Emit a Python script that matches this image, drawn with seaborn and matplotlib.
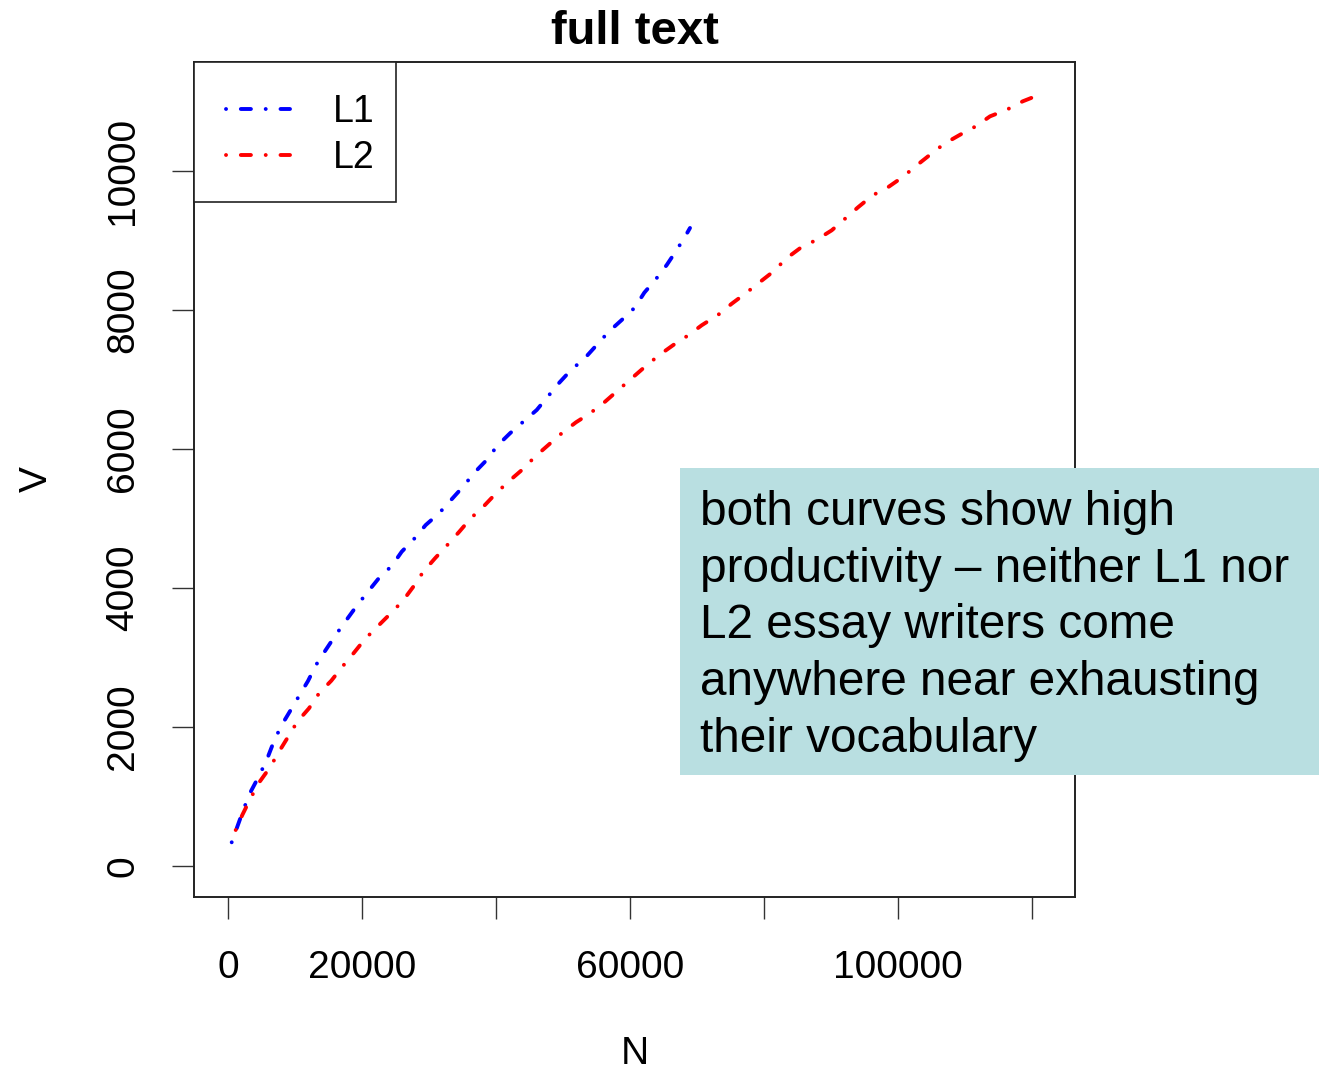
import numpy as np
import pandas as pd
import matplotlib
matplotlib.use("Agg")
import matplotlib.pyplot as plt
import seaborn as sns
from matplotlib.patches import Rectangle

# ---- data ----
l1_N = [552, 1388, 2388, 3388, 4627, 5776, 6716, 7866, 9209, 10597, 11940, 13134,
        14582, 16075, 17567, 19299, 22687, 24433, 25925, 27761, 29507, 31493, 33284,
        35075, 36761, 38612, 40194, 42090, 44075, 46075, 47716, 49448, 51194, 53239,
        55030, 56821, 58761, 60701, 62134, 63881, 65478, 66970, 68358, 68955]
l1_V = [341, 565, 834, 1069, 1295, 1525, 1760, 2004, 2220, 2446, 2662, 2892,
        3108, 3324, 3525, 3755, 4162, 4316, 4522, 4705, 4906, 5074, 5266,
        5457, 5658, 5842, 6047, 6226, 6393, 6561, 6752, 6954, 7136, 7305,
        7496, 7687, 7856, 8033, 8249, 8446, 8647, 8863, 9079, 9180]

l2_N = [1149, 2134, 3388, 4627, 6269, 7612, 8955, 10343, 12090, 13582, 15418, 17060,
        18806, 20403, 22284, 24284, 26075, 27657, 29149, 30896, 32731, 34522, 36224,
        38209, 40000, 41836, 43985, 45821, 47806, 49806, 51940, 54030, 56269, 58254,
        60254, 62239, 64373, 66463, 68701, 70701, 73179, 75179, 77313, 79403, 81493,
        83284, 85478, 87866, 90104, 92090, 94075, 96224, 98552, 100701, 102791,
        104672, 106910, 109254, 111597, 113731, 116224, 118612, 121090]
l2_V = [518, 734, 978, 1199, 1420, 1645, 1856, 2076, 2269, 2484, 2666, 2867,
        3069, 3261, 3443, 3635, 3813, 4018, 4234, 4427, 4618, 4810, 5002,
        5180, 5362, 5529, 5708, 5889, 6057, 6226, 6384, 6513, 6680, 6848,
        7017, 7184, 7352, 7496, 7636, 7780, 7932, 8090, 8244, 8403, 8561,
        8738, 8896, 9011, 9146, 9313, 9481, 9650, 9769, 9913, 10081,
        10225, 10392, 10521, 10642, 10786, 10881, 11002, 11097]

groups = ["L1", "L2"]
x_ticks = [0, 20000, 40000, 60000, 80000, 100000, 120000]
x_tick_labels = ["0", "20000", "", "60000", "", "100000", ""]
y_ticks = [0, 2000, 4000, 6000, 8000, 10000]
y_tick_labels = ["0", "2000", "4000", "6000", "8000", "10000"]
title = "full text"
note = ("both curves show high\nproductivity \u2013 neither L1 nor\n"
        "L2 essay writers come\nanywhere near exhausting\ntheir vocabulary")

df = pd.concat([
    pd.DataFrame({"N": l1_N, "V": l1_V, "group": "L1"}),
    pd.DataFrame({"N": l2_N, "V": l2_V, "group": "L2"}),
], ignore_index=True)

sns.set_style("white")
plt.rcParams["font.family"] = ["Liberation Sans", "DejaVu Sans"]
plt.rcParams["text.color"] = "black"
plt.rcParams["axes.labelcolor"] = "black"
plt.rcParams["xtick.color"] = "black"
plt.rcParams["ytick.color"] = "black"

W, H = 1319, 1074
fig = plt.figure(figsize=(W / 100, H / 100), dpi=100)
ax = fig.add_axes([194 / W, 1 - 897 / H, (1075 - 194) / W, (897 - 62) / H])

pattern = (0.01, 3.8, 2.6, 3.8)
sns.lineplot(data=df, x="N", y="V", hue="group", style="group",
             palette={"L1": "#0000FF", "L2": "#FF0000"},
             dashes={"L1": pattern, "L2": pattern},
             sort=False, estimator=None, linewidth=2.8, legend=False, ax=ax,
             dash_capstyle="round")

ax.set_xlim(-5075, 126418)
ax.set_ylim(-446, 11568)

ax.set_xticks(x_ticks)
ax.set_xticklabels(x_tick_labels, fontsize=28)
ax.set_yticks(y_ticks)
ax.set_yticklabels(y_tick_labels, fontsize=28, rotation=90, va="center")
ax.tick_params(axis="both", direction="out", length=16, width=1.0,
               color="#333333", labelcolor="black", bottom=True, left=True)
ax.tick_params(axis="x", pad=22)
ax.tick_params(axis="y", pad=22)

for s in ax.spines.values():
    s.set_color("#222222")
    s.set_linewidth(1.4)

ax.set_xlabel("N", fontsize=28, labelpad=36, color="black")
ax.set_ylabel("V", fontsize=28, labelpad=36, color="black")
ax.set_title(title, fontsize=34, fontweight="bold", pad=13, color="black")

# legend box (R style, drawn as a frame in axes coordinates)
ax.add_patch(Rectangle((0, 1 - (202 - 62) / (897 - 62)), (396 - 194) / (1075 - 194),
                       (202 - 62) / (897 - 62), transform=ax.transAxes,
                       facecolor="white", edgecolor="#222222", linewidth=1.2,
                       zorder=4, clip_on=False))
lines = ax.get_lines()[:2]
leg = ax.legend(handles=lines, labels=groups, loc="upper left",
                bbox_to_anchor=(0, 1), borderaxespad=0, fontsize=27,
                handlelength=1.7, handletextpad=1.15, borderpad=0.85,
                labelspacing=0.28, frameon=False, labelcolor="black")
leg.set_zorder(6)

# annotation box
fig.patches.append(Rectangle((680 / W, 1 - 775 / H), (W - 680) / W, (775 - 468) / H,
                             transform=fig.transFigure, facecolor="#B9DFE1",
                             edgecolor="none", zorder=5))
fig.text(700 / W, 1 - 626 / H, note, fontsize=34.4, va="center", ha="left",
         linespacing=1.34, color="black", zorder=6)

fig.savefig("out.png", dpi=100)
